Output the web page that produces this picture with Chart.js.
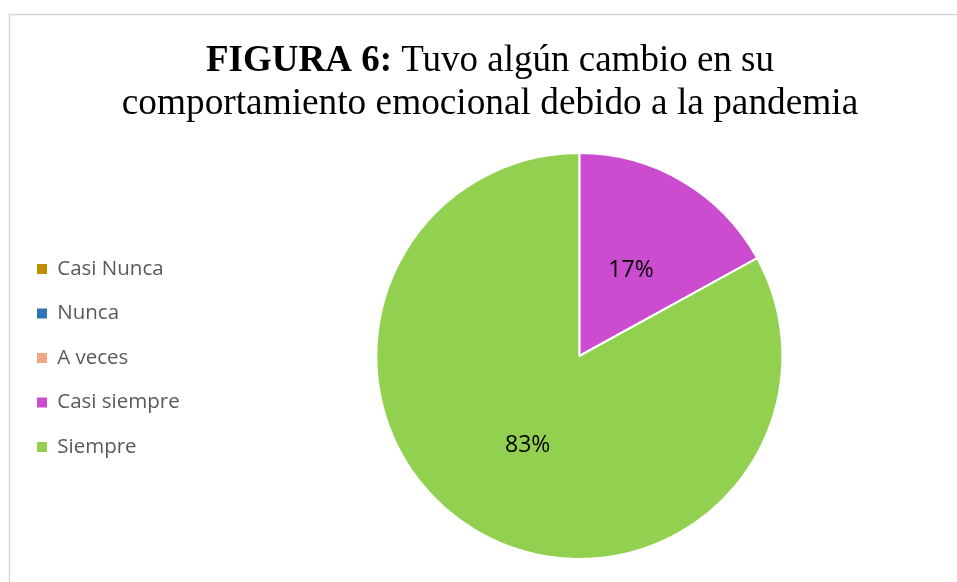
<!DOCTYPE html>
<html>
<head>
<meta charset="utf-8">
<script src="https://cdn.jsdelivr.net/npm/chart.js@4/dist/chart.umd.min.js"></script>
<style>
  html, body { margin: 0; padding: 0; background: #ffffff; overflow: hidden; }
  #wrap { position: relative; width: 957px; height: 582px; overflow: hidden; }
  #c { position: absolute; left: 0; top: 0; }
</style>
</head>
<body>
<div id="wrap"><canvas id="c" width="969" height="582"></canvas></div>
<script>
const categories = ["Casi Nunca", "Nunca", "A veces", "Casi siempre", "Siempre"];
const values = [0, 0, 0, 17, 83];
const colors = ["#BF9000", "#2E75B6", "#F4A582", "#CC4CD0", "#92D050"];
const titleBold = "FIGURA 6:";
const titleRest = " Tuvo algún cambio en su";
const titleLine2 = "comportamiento emocional debido a la pandemia";

const framePlugin = {
  id: 'frame',
  beforeDraw(chart) {
    const ctx = chart.ctx;
    ctx.save();
    ctx.fillStyle = '#ffffff';
    ctx.fillRect(0, 0, chart.width, chart.height);
    ctx.strokeStyle = '#d9d9d9';
    ctx.lineWidth = 1.5;
    ctx.beginPath();
    ctx.moveTo(9.5, chart.height);
    ctx.lineTo(9.5, 14.5);
    ctx.lineTo(chart.width, 14.5);
    ctx.stroke();
    ctx.restore();
  }
};

const titlePlugin = {
  id: 'mixedTitle',
  afterDraw(chart) {
    const ctx = chart.ctx;
    const cx = 490;
    ctx.save();
    ctx.fillStyle = '#000000';
    ctx.textBaseline = 'alphabetic';
    const boldFont = 'bold 37px "Liberation Serif", "Times New Roman", serif';
    const normFont = '37px "Liberation Serif", "Times New Roman", serif';
    ctx.font = boldFont;
    const w1 = ctx.measureText(titleBold).width;
    ctx.font = normFont;
    const w2 = ctx.measureText(titleRest).width;
    let x = cx - (w1 + w2) / 2;
    ctx.textAlign = 'left';
    ctx.font = boldFont;
    ctx.fillText(titleBold, x, 71);
    ctx.font = normFont;
    ctx.fillText(titleRest, x + w1, 71);
    ctx.textAlign = 'center';
    ctx.font = '37.3px "Liberation Serif", "Times New Roman", serif';
    ctx.fillText(titleLine2, cx, 114);
    ctx.restore();
  }
};

const labelPlugin = {
  id: 'sliceLabels',
  afterDatasetsDraw(chart) {
    const ctx = chart.ctx;
    const meta = chart.getDatasetMeta(0);
    const data = chart.data.datasets[0].data;
    const total = data.reduce((a, b) => a + b, 0);
    ctx.save();
    ctx.fillStyle = '#000000';
    ctx.font = '23px "Open Sans", sans-serif';
    ctx.textAlign = 'center';
    ctx.textBaseline = 'middle';
    meta.data.forEach((arc, i) => {
      if (!data[i]) return;
      const p = arc.tooltipPosition();
      ctx.fillText(Math.round(data[i] / total * 100) + '%', p.x, p.y + 2);
    });
    ctx.restore();
  }
};

new Chart(document.getElementById('c'), {
  type: 'pie',
  data: {
    labels: categories,
    datasets: [{
      data: values,
      backgroundColor: colors,
      borderColor: '#ffffff',
      borderWidth: 2
    }]
  },
  options: {
    responsive: false,
    animation: false,
    layout: { padding: { top: 152, bottom: 22, left: 13, right: 0 } },
    plugins: {
      title: { display: false },
      tooltip: { enabled: false },
      legend: {
        position: 'left',
        align: 'center',
        title: {
          display: true,
          text: ' ',
          font: { size: 1, lineHeight: 1 },
          padding: { top: 0, bottom: 3 }
        },
        labels: {
          boxWidth: 10,
          boxHeight: 10,
          padding: 24,
          color: '#595959',
          font: { family: '"Open Sans", sans-serif', size: 20.5 },
          generateLabels(chart) {
            const items = Chart.overrides.pie.plugins.legend.labels.generateLabels(chart);
            items.forEach(it => { it.lineWidth = 0; it.strokeStyle = it.fillStyle; });
            return items;
          }
        }
      }
    }
  },
  plugins: [framePlugin, titlePlugin, labelPlugin]
});
</script>
</body>
</html>
